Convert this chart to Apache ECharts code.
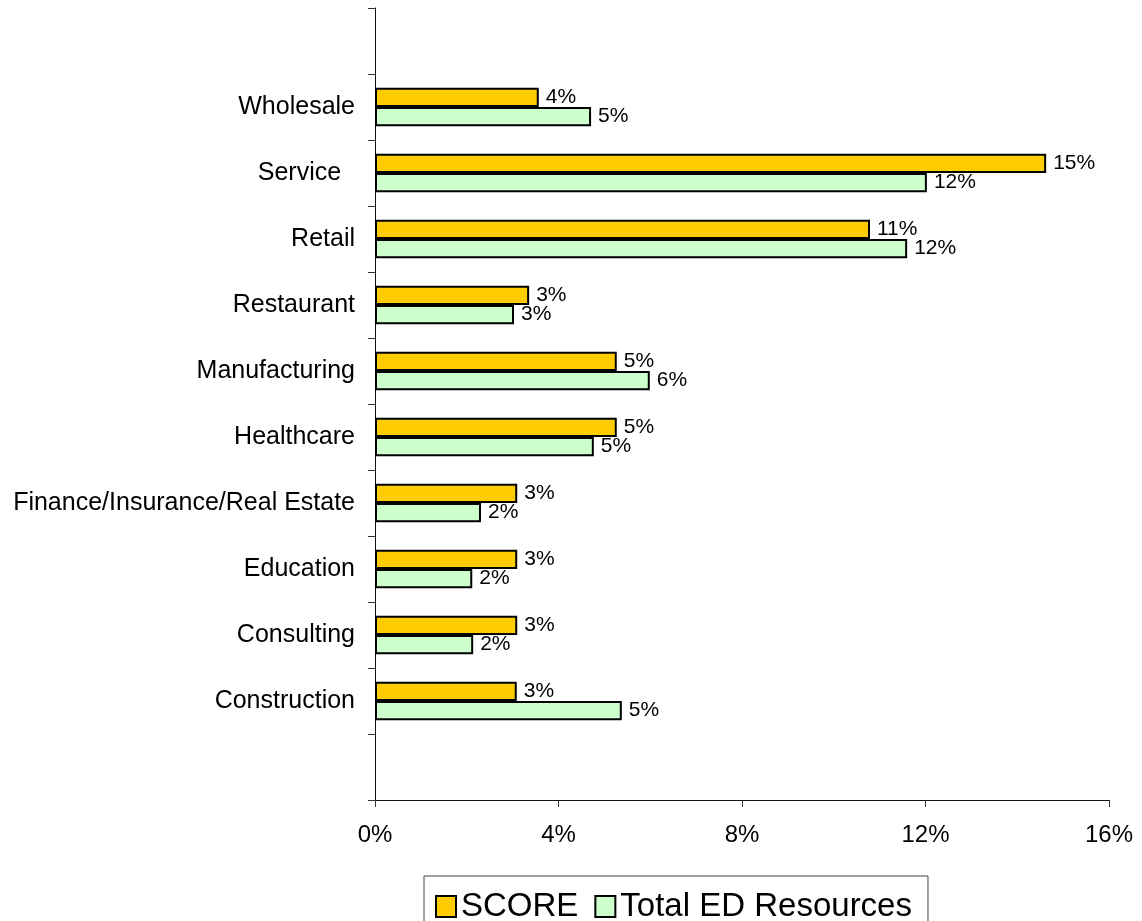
<!DOCTYPE html>
<html>
<head>
<meta charset="utf-8">
<script src="https://cdn.jsdelivr.net/npm/echarts@6/dist/echarts.min.js"></script>
<style>
  html, body { margin: 0; padding: 0; background: #fff; }
  #chart { width: 1142px; height: 921px; }
</style>
</head>
<body>
<div id="chart"></div>
<script>
// categories bottom -> top, blank rows at both ends like the original
var categories = ['', 'Construction', 'Consulting', 'Education', 'Finance/Insurance/Real Estate',
    'Healthcare', 'Manufacturing', 'Restaurant', 'Retail', 'Service  ', 'Wholesale', ''];
var scoreValues = [null, 3.09, 3.1, 3.1, 3.1, 5.27, 5.27, 3.36, 10.79, 14.63, 3.57, null];
var edValues = [null, 5.38, 2.14, 2.12, 2.31, 4.77, 5.99, 3.03, 11.6, 12.03, 4.71, null];
var seriesNames = ['SCORE', 'Total ED Resources'];
var xTicks = [0, 4, 8, 12, 16];

var font = 'Liberation Sans, Arial, sans-serif';

function pctLabel(p){
    return Math.round(p.value) + '%';
}

function makeSeries(name, data, color){
    return {
        name: name,
        type: 'bar',
        data: data,
        barGap: '0%',
        barCategoryGap: '42%',
        itemStyle: { color: color, borderColor: '#000', borderWidth: 2 },
        label: {
            show: true,
            position: 'right',
            distance: 7,
            formatter: pctLabel,
            color: '#000',
            fontSize: 21,
            fontFamily: font
        },
        emphasis: { disabled: true },
        animation: false
    };
}

var chart = echarts.init(document.getElementById('chart'));
var option = {
    backgroundColor: '#fff',
    grid: { left: 375, right: 33, top: 8, bottom: 121, containLabel: false },
    legend: {
        data: seriesNames,
        left: 424,
        top: 876,
        orient: 'horizontal',
        icon: 'rect',
        itemWidth: 20,
        itemHeight: 21,
        itemGap: 16,
        padding: [14, 16, 10, 11],
        borderColor: '#444',
        borderWidth: 1,
        textStyle: { fontSize: 33, color: '#000', fontFamily: font },
        itemStyle: { borderColor: '#000', borderWidth: 2 }
    },
    xAxis: {
        type: 'value',
        min: xTicks[0],
        max: xTicks[xTicks.length - 1],
        interval: 4,
        splitLine: { show: false },
        axisLine: { show: true, lineStyle: { color: '#111', width: 1 } },
        axisTick: { show: true, length: 7, lineStyle: { color: '#333' } },
        axisLabel: { formatter: '{value}%', color: '#000', fontSize: 24, fontFamily: font, margin: 23 }
    },
    yAxis: {
        type: 'category',
        data: categories,
        axisLine: { show: true, lineStyle: { color: '#111', width: 1 } },
        axisTick: { show: true, length: 7, interval: 0, lineStyle: { color: '#333' } },
        axisLabel: { color: '#000', fontSize: 25, fontFamily: font, margin: 20, interval: 0 },
        splitLine: { show: false }
    },
    series: [
        makeSeries(seriesNames[0], scoreValues, '#FFCC00'),
        makeSeries(seriesNames[1], edValues, '#CCFFCC')
    ]
};
chart.setOption(option);
</script>
</body>
</html>
